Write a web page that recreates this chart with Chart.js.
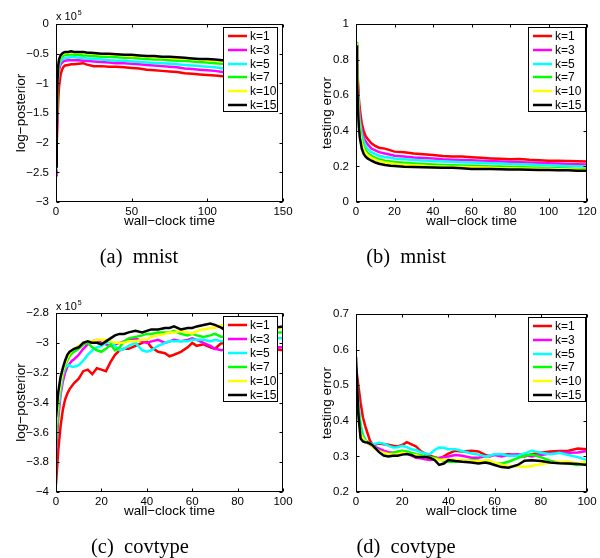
<!DOCTYPE html>
<html>
<head>
<meta charset="utf-8">
<script src="https://cdn.jsdelivr.net/npm/chart.js@4.4.0/dist/chart.umd.min.js"></script>
<style>
html, body { margin: 0; padding: 0; background: #fff; }
#fig { position: relative; width: 600px; height: 558px; overflow: hidden; background: #fff; }
#fig canvas { position: absolute; left: 0; top: 0; }
.cap { position: absolute; width: 200px; text-align: center; color: #000;
       font-family: 'Liberation Serif', 'Times New Roman', serif; font-size: 20.5px; line-height: 20px; white-space: pre; }
</style>
</head>
<body>
<div id="fig">
  <canvas id="pa" width="600" height="558"></canvas>
  <canvas id="pb" width="600" height="558"></canvas>
  <canvas id="pc" width="600" height="558"></canvas>
  <canvas id="pd" width="600" height="558"></canvas>
  <div class="cap" style="left:39px;top:246px">(a)  mnist</div>
  <div class="cap" style="left:306px;top:246px">(b)  mnist</div>
  <div class="cap" style="left:40px;top:536px">(c)  covtype</div>
  <div class="cap" style="left:306px;top:536px">(d)  covtype</div>
</div>
<script>
// ---- series labels and colours ----
const kLabels = ['k=1', 'k=3', 'k=5', 'k=7', 'k=10', 'k=15'];
const kColors = ['#ff0000', '#ff00ff', '#00ffff', '#00ff00', '#ffff00', '#000000'];

// ---- (a) mnist: log-posterior (x 10^5) vs wall-clock time ----
const mnistPostTime = [0,0.5,1,1.5,2,3,4,5,6,8,10,12,15,18,20,25,30,35,40,45,50,55,60,65,70,75,80,85,90,95,100,105,110,115,120];
const mnistPostK1  = [-2.30,-2.00,-1.62,-1.28,-1.06,-0.86,-0.77,-0.72,-0.70,-0.69,-0.68,-0.68,-0.67,-0.66,-0.68,-0.71,-0.71,-0.72,-0.72,-0.73,-0.74,-0.75,-0.77,-0.78,-0.79,-0.80,-0.81,-0.83,-0.84,-0.85,-0.86,-0.87,-0.88,-0.88,-0.89];
const mnistPostK3  = [-2.55,-1.85,-1.22,-0.92,-0.78,-0.68,-0.65,-0.63,-0.62,-0.61,-0.61,-0.61,-0.61,-0.62,-0.62,-0.63,-0.64,-0.65,-0.66,-0.66,-0.67,-0.68,-0.69,-0.70,-0.71,-0.72,-0.73,-0.75,-0.76,-0.77,-0.78,-0.79,-0.81,-0.82,-0.83];
const mnistPostK5  = [-2.45,-1.72,-1.10,-0.83,-0.72,-0.63,-0.60,-0.58,-0.57,-0.57,-0.56,-0.56,-0.57,-0.57,-0.58,-0.59,-0.60,-0.61,-0.62,-0.62,-0.63,-0.64,-0.65,-0.66,-0.66,-0.67,-0.68,-0.69,-0.70,-0.71,-0.72,-0.73,-0.75,-0.76,-0.77];
const mnistPostK7  = [-2.40,-1.66,-1.02,-0.77,-0.66,-0.58,-0.55,-0.53,-0.52,-0.52,-0.51,-0.52,-0.52,-0.53,-0.53,-0.54,-0.55,-0.55,-0.56,-0.57,-0.57,-0.58,-0.59,-0.60,-0.60,-0.61,-0.62,-0.62,-0.63,-0.64,-0.65,-0.66,-0.67,-0.68,-0.69];
const mnistPostK10 = [-2.42,-1.62,-0.97,-0.72,-0.62,-0.55,-0.51,-0.50,-0.49,-0.48,-0.48,-0.48,-0.48,-0.49,-0.49,-0.50,-0.51,-0.52,-0.52,-0.53,-0.54,-0.54,-0.55,-0.56,-0.56,-0.57,-0.58,-0.58,-0.59,-0.60,-0.61,-0.62,-0.63,-0.63,-0.64];
const mnistPostK15 = [-2.40,-1.58,-0.94,-0.70,-0.60,-0.53,-0.50,-0.48,-0.47,-0.47,-0.46,-0.47,-0.47,-0.47,-0.48,-0.49,-0.50,-0.50,-0.51,-0.52,-0.52,-0.53,-0.54,-0.54,-0.55,-0.55,-0.56,-0.57,-0.58,-0.59,-0.59,-0.60,-0.61,-0.61,-0.62];

// ---- (b) mnist: testing error vs wall-clock time ----
const mnistErrTime = [0,0.5,1,1.5,2,3,4,5,6,8,10,12,15,18,20,25,30,35,40,45,50,55,60,65,70,75,80,85,90,95,100,105,110,115,120];
const mnistErrK1  = [0.89,0.80,0.68,0.58,0.52,0.44,0.40,0.37,0.355,0.33,0.315,0.305,0.30,0.29,0.283,0.28,0.272,0.268,0.264,0.258,0.255,0.256,0.252,0.248,0.245,0.243,0.240,0.241,0.237,0.235,0.232,0.232,0.230,0.229,0.228];
const mnistErrK3  = [0.89,0.78,0.64,0.53,0.47,0.40,0.36,0.34,0.325,0.30,0.29,0.28,0.272,0.265,0.26,0.255,0.25,0.247,0.244,0.24,0.238,0.236,0.234,0.232,0.23,0.228,0.226,0.224,0.222,0.22,0.218,0.216,0.214,0.212,0.21];
const mnistErrK5  = [0.89,0.77,0.62,0.51,0.45,0.38,0.34,0.315,0.30,0.28,0.27,0.26,0.253,0.248,0.245,0.24,0.236,0.233,0.23,0.228,0.226,0.224,0.222,0.22,0.218,0.216,0.214,0.212,0.21,0.208,0.206,0.204,0.202,0.201,0.20];
const mnistErrK7  = [0.90,0.75,0.58,0.47,0.41,0.35,0.31,0.29,0.275,0.26,0.248,0.24,0.232,0.228,0.225,0.22,0.216,0.213,0.21,0.208,0.207,0.205,0.204,0.202,0.20,0.199,0.197,0.196,0.194,0.192,0.19,0.189,0.188,0.186,0.185];
const mnistErrK10 = [0.89,0.74,0.56,0.45,0.39,0.33,0.295,0.275,0.262,0.248,0.238,0.23,0.222,0.218,0.215,0.21,0.206,0.203,0.20,0.199,0.197,0.196,0.195,0.194,0.192,0.19,0.189,0.188,0.187,0.186,0.185,0.184,0.182,0.181,0.18];
const mnistErrK15 = [0.88,0.72,0.53,0.42,0.36,0.30,0.27,0.255,0.245,0.232,0.222,0.215,0.208,0.204,0.202,0.198,0.196,0.195,0.194,0.193,0.192,0.19,0.186,0.185,0.185,0.184,0.183,0.182,0.181,0.18,0.18,0.179,0.178,0.176,0.175];

// ---- (c) covtype: log-posterior (x 10^5) vs wall-clock time ----
const covPostTime = [0,1,2,3,4,5,6,7,8,10,12,14,16,18,20,22,24,26,28,30,32,35,38,40,42,45,48,50,52,55,58,60,62,65,68,70,73,76,80,85,90,95,100];
const covPostK1  = [-3.95,-3.72,-3.56,-3.45,-3.38,-3.34,-3.31,-3.29,-3.27,-3.24,-3.19,-3.18,-3.21,-3.17,-3.18,-3.19,-3.13,-3.08,-3.05,-3.04,-3.04,-3.02,-3.00,-2.99,-3.03,-3.06,-3.07,-3.09,-3.08,-3.06,-3.03,-3.00,-3.02,-3.01,-3.03,-3.04,-3.00,-3.02,-3.04,-3.03,-3.05,-3.04,-3.05];
const covPostK3  = [-3.75,-3.50,-3.35,-3.26,-3.20,-3.16,-3.14,-3.12,-3.11,-3.08,-3.04,-3.01,-2.99,-2.98,-3.00,-3.01,-3.02,-3.01,-3.00,-2.99,-2.98,-2.97,-2.99,-3.00,-2.99,-2.98,-3.00,-2.99,-2.98,-2.99,-2.98,-2.97,-2.98,-3.00,-3.02,-3.04,-3.05,-3.03,-3.02,-3.03,-3.02,-3.03,-3.03];
const covPostK5  = [-3.60,-3.45,-3.32,-3.22,-3.17,-3.15,-3.15,-3.16,-3.16,-3.15,-3.12,-3.08,-3.05,-3.03,-3.02,-3.00,-2.99,-3.02,-3.05,-3.04,-3.02,-3.00,-3.05,-3.06,-3.05,-3.02,-3.00,-2.99,-2.99,-2.99,-2.99,-2.98,-2.98,-2.98,-2.99,-2.98,-2.99,-2.99,-2.98,-2.97,-2.98,-2.97,-2.97];
const covPostK7  = [-3.70,-3.42,-3.28,-3.20,-3.15,-3.12,-3.09,-3.07,-3.06,-3.04,-3.01,-3.00,-3.03,-3.05,-3.06,-3.04,-3.01,-3.05,-3.03,-2.99,-2.97,-2.96,-2.95,-2.94,-2.94,-2.93,-2.93,-2.93,-2.92,-2.94,-2.95,-2.94,-2.95,-2.96,-2.95,-2.94,-2.96,-2.95,-2.94,-2.93,-2.94,-2.93,-2.93];
const covPostK10 = [-3.55,-3.38,-3.27,-3.19,-3.14,-3.10,-3.07,-3.05,-3.04,-3.02,-3.00,-2.99,-2.99,-2.98,-2.98,-2.98,-2.99,-3.00,-3.00,-3.00,-2.99,-2.99,-2.98,-2.98,-2.96,-2.95,-2.94,-2.93,-2.93,-2.92,-2.93,-2.94,-2.92,-2.91,-2.90,-2.90,-2.88,-2.89,-2.90,-2.90,-2.91,-2.90,-2.90];
const covPostK15 = [-3.50,-3.33,-3.23,-3.17,-3.12,-3.08,-3.06,-3.05,-3.04,-3.03,-3.00,-2.99,-3.00,-3.00,-3.01,-2.99,-2.97,-2.95,-2.94,-2.94,-2.93,-2.92,-2.93,-2.92,-2.91,-2.91,-2.90,-2.90,-2.89,-2.91,-2.90,-2.90,-2.89,-2.88,-2.87,-2.88,-2.90,-2.93,-2.92,-2.91,-2.91,-2.90,-2.89];

// ---- (d) covtype: testing error vs wall-clock time ----
const covErrTime = [0,1,2,3,4,5,6,7,8,10,12,14,16,18,20,22,24,26,28,30,32,34,36,38,40,43,46,50,53,56,58,60,63,66,70,73,76,80,84,88,92,96,100];
const covErrK1  = [0.55,0.50,0.45,0.41,0.385,0.365,0.345,0.335,0.333,0.336,0.334,0.333,0.330,0.328,0.332,0.340,0.334,0.328,0.315,0.308,0.302,0.298,0.294,0.300,0.308,0.316,0.314,0.316,0.314,0.304,0.300,0.306,0.304,0.306,0.303,0.300,0.306,0.310,0.314,0.315,0.316,0.322,0.320];
const covErrK3  = [0.50,0.44,0.38,0.36,0.345,0.338,0.333,0.330,0.327,0.322,0.316,0.312,0.310,0.312,0.315,0.310,0.302,0.296,0.295,0.292,0.290,0.292,0.296,0.298,0.300,0.304,0.302,0.296,0.296,0.300,0.302,0.304,0.300,0.304,0.306,0.304,0.300,0.304,0.308,0.310,0.310,0.311,0.315];
const covErrK5  = [0.55,0.45,0.39,0.36,0.348,0.340,0.336,0.335,0.335,0.338,0.336,0.330,0.325,0.326,0.330,0.326,0.320,0.318,0.312,0.308,0.306,0.318,0.325,0.324,0.320,0.320,0.315,0.308,0.305,0.300,0.302,0.306,0.306,0.302,0.302,0.308,0.316,0.310,0.306,0.310,0.304,0.298,0.290];
const covErrK7  = [0.50,0.43,0.38,0.355,0.345,0.340,0.335,0.330,0.325,0.315,0.306,0.306,0.310,0.314,0.316,0.314,0.310,0.306,0.304,0.300,0.298,0.296,0.292,0.288,0.285,0.285,0.288,0.290,0.288,0.285,0.283,0.280,0.280,0.285,0.295,0.302,0.305,0.298,0.288,0.282,0.280,0.276,0.280];
const covErrK10 = [0.45,0.40,0.365,0.350,0.343,0.338,0.334,0.328,0.322,0.315,0.310,0.307,0.305,0.307,0.310,0.308,0.305,0.303,0.300,0.298,0.296,0.293,0.290,0.290,0.292,0.290,0.290,0.288,0.286,0.290,0.288,0.282,0.277,0.272,0.272,0.270,0.273,0.278,0.283,0.285,0.285,0.280,0.286];
const covErrK15 = [0.58,0.42,0.350,0.342,0.340,0.339,0.336,0.332,0.325,0.312,0.302,0.300,0.302,0.302,0.305,0.307,0.304,0.298,0.298,0.298,0.296,0.290,0.276,0.280,0.290,0.287,0.285,0.283,0.280,0.283,0.280,0.276,0.270,0.268,0.276,0.288,0.289,0.287,0.283,0.281,0.280,0.279,0.276];

// ---- drawing ----
const FONT = "'Liberation Sans', Arial, Helvetica, sans-serif";
Chart.defaults.font.family = FONT;
Chart.defaults.color = '#000';

const fmt = v => String(Number(v.toFixed(2))).replace('-', '\u2212');

// Boxed axes with inward ticks on all sides, an inset legend and the x 10^5 multiplier.
const matlabFrame = {
  id: 'matlabFrame',
  afterDatasetsDraw(chart, args, o) {
    const { ctx, chartArea: a, scales } = chart;
    const L = Math.round(a.left) + 0.5, R = Math.round(a.right) - 0.5;
    const T = Math.round(a.top) + 0.5, B = Math.round(a.bottom) - 0.5;
    const tl = 3;
    ctx.save();
    ctx.strokeStyle = '#000';
    ctx.lineWidth = 1;
    ctx.beginPath();
    scales.x.ticks.forEach(t => {
      const px = Math.round(scales.x.getPixelForValue(t.value)) + 0.5;
      ctx.moveTo(px, B); ctx.lineTo(px, B - tl);
      ctx.moveTo(px, T); ctx.lineTo(px, T + tl);
    });
    scales.y.ticks.forEach(t => {
      const py = Math.round(scales.y.getPixelForValue(t.value)) + 0.5;
      ctx.moveTo(L, py); ctx.lineTo(L + tl, py);
      ctx.moveTo(R, py); ctx.lineTo(R - tl, py);
    });
    ctx.stroke();
    ctx.strokeRect(L, T, R - L, B - T);

    // legend
    const lg = o.legend;
    ctx.fillStyle = '#fff';
    ctx.fillRect(lg.x, lg.y, lg.w, lg.h);
    ctx.strokeStyle = '#000';
    ctx.lineWidth = 1;
    ctx.strokeRect(lg.x + 0.5, lg.y + 0.5, lg.w - 1, lg.h - 1);
    const n = chart.data.datasets.length;
    const step = (lg.h - 16) / (n - 1);
    ctx.font = '12px ' + FONT;
    ctx.textBaseline = 'middle';
    ctx.textAlign = 'left';
    chart.data.datasets.forEach((ds, i) => {
      const cy = Math.round(lg.y + 9 + i * step);
      ctx.strokeStyle = ds.borderColor;
      ctx.lineWidth = 2.5;
      ctx.beginPath();
      ctx.moveTo(lg.x + 5, cy); ctx.lineTo(lg.x + 24, cy);
      ctx.stroke();
      ctx.fillStyle = '#000';
      ctx.fillText(ds.label, lg.x + 27, cy + 0.5);
    });

    // axis multiplier
    if (o.exponent) {
      const base = a.top - o.exponent.gap;
      ctx.fillStyle = '#000';
      ctx.textBaseline = 'alphabetic';
      ctx.font = '11px ' + FONT;
      ctx.fillText('x 10', a.left, base);
      const w = ctx.measureText('x 10').width;
      ctx.font = '7px ' + FONT;
      ctx.fillText('5', a.left + w + 1, base - 5);
    }
    ctx.restore();
  }
};

const W_Y = 56, H_X = 28;

function makePanel(id, p) {
  const datasets = p.series.map((vals, i) => ({
    label: kLabels[i],
    data: vals.map((v, j) => ({ x: p.time[j], y: v })),
    borderColor: kColors[i],
    backgroundColor: kColors[i],
    borderWidth: 2.5,
    pointRadius: 0,
    tension: 0,
    fill: false,
    order: p.series.length - i
  }));
  return new Chart(document.getElementById(id), {
    type: 'line',
    data: { datasets },
    plugins: [matlabFrame],
    options: {
      responsive: false,
      animation: false,
      devicePixelRatio: 1,
      events: [],
      layout: { padding: {
        left: p.box.left - W_Y,
        right: 600 - p.box.right,
        top: p.box.top,
        bottom: 558 - p.box.bottom - H_X
      } },
      plugins: {
        legend: { display: false },
        tooltip: { enabled: false },
        matlabFrame: { legend: p.legend, exponent: p.exponent }
      },
      scales: {
        x: {
          type: 'linear', min: p.x[0], max: p.x[1],
          ticks: { stepSize: p.x[2], callback: fmt, font: { size: 11.5 }, padding: 3, maxRotation: 0, autoSkip: false },
          grid: { display: false, drawTicks: false },
          border: { display: false },
          title: { display: true, text: 'wall\u2212clock time', font: { size: 13.5 }, padding: { top: 0, bottom: 1 } },
          afterFit: s => { s.height = H_X; }
        },
        y: {
          type: 'linear', min: p.y[0], max: p.y[1],
          ticks: { stepSize: p.y[2], callback: fmt, font: { size: 11.5 }, padding: 7, autoSkip: false },
          grid: { display: false, drawTicks: false },
          border: { display: false },
          title: { display: true, text: p.yTitle, font: { size: 13.5 }, padding: { top: p.yTitlePad, bottom: 0 } },
          afterFit: s => { s.width = W_Y; }
        }
      }
    }
  });
}

makePanel('pa', {
  time: mnistPostTime,
  series: [mnistPostK1, mnistPostK3, mnistPostK5, mnistPostK7, mnistPostK10, mnistPostK15],
  box: { left: 56, right: 283, top: 24, bottom: 202 },
  x: [0, 150, 50], y: [-3, 0, 0.5],
  yTitle: 'log\u2212posterior', yTitlePad: 13,
  legend: { x: 223, y: 27, w: 55, h: 85 },
  exponent: { gap: 4 }
});
makePanel('pb', {
  time: mnistErrTime,
  series: [mnistErrK1, mnistErrK3, mnistErrK5, mnistErrK7, mnistErrK10, mnistErrK15],
  box: { left: 356, right: 587, top: 24, bottom: 202 },
  x: [0, 120, 20], y: [0, 1, 0.2],
  yTitle: 'testing error', yTitlePad: 19.5,
  legend: { x: 528, y: 27, w: 58, h: 85 }
});
makePanel('pc', {
  time: covPostTime,
  series: [covPostK1, covPostK3, covPostK5, covPostK7, covPostK10, covPostK15],
  box: { left: 56, right: 283, top: 313, bottom: 492 },
  x: [0, 100, 20], y: [-4, -2.8, 0.2],
  yTitle: 'log\u2212posterior', yTitlePad: 13,
  legend: { x: 223, y: 316, w: 55, h: 86 },
  exponent: { gap: 3 }
});
makePanel('pd', {
  time: covErrTime,
  series: [covErrK1, covErrK3, covErrK5, covErrK7, covErrK10, covErrK15],
  box: { left: 356, right: 587, top: 314, bottom: 492 },
  x: [0, 100, 20], y: [0.2, 0.7, 0.1],
  yTitle: 'testing error', yTitlePad: 19.5,
  legend: { x: 528, y: 317, w: 58, h: 85 }
});
</script>
</body>
</html>
